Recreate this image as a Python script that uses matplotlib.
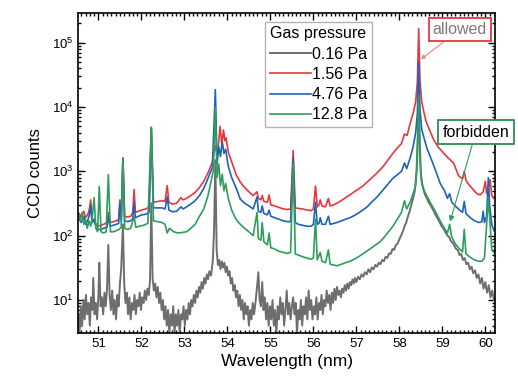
#!/usr/bin/env python3
import matplotlib
matplotlib.use("Agg")
import matplotlib.pyplot as plt
from matplotlib.ticker import MultipleLocator, LogLocator, NullFormatter

plt.rcParams['font.family'] = ['Liberation Sans', 'DejaVu Sans']
plt.rcParams['mathtext.fontset'] = 'custom'
plt.rcParams['mathtext.rm'] = 'Liberation Sans'
plt.rcParams['mathtext.it'] = 'Liberation Sans:italic'

# spectra: wavelength (nm) -> CCD counts

# 0.16 Pa
gray_wl = [50.53, 50.56, 50.59, 50.62, 50.65, 50.68, 50.71, 50.74, 50.77, 50.80,
           50.83, 50.86, 50.88, 50.91, 50.94, 50.97, 51.00, 51.02, 51.05, 51.08,
           51.11, 51.14, 51.17, 51.20, 51.23, 51.26, 51.29, 51.32, 51.35, 51.38,
           51.41, 51.44, 51.47, 51.50, 51.53, 51.57, 51.60, 51.63, 51.66, 51.69,
           51.72, 51.75, 51.78, 51.81, 51.84, 51.87, 51.90, 51.93, 51.96, 51.99,
           52.02, 52.05, 52.08, 52.11, 52.14, 52.17, 52.20, 52.23, 52.26, 52.29,
           52.32, 52.35, 52.38, 52.41, 52.44, 52.47, 52.50, 52.53, 52.56, 52.59,
           52.62, 52.65, 52.68, 52.71, 52.74, 52.77, 52.80, 52.83, 52.86, 52.89,
           52.92, 52.95, 52.98, 53.01, 53.04, 53.07, 53.10, 53.13, 53.16, 53.19,
           53.22, 53.25, 53.28, 53.31, 53.34, 53.37, 53.40, 53.43, 53.46, 53.49,
           53.52, 53.55, 53.58, 53.62, 53.66, 53.69, 53.72, 53.75, 53.78, 53.81,
           53.84, 53.87, 53.90, 53.93, 53.96, 53.99, 54.02, 54.05, 54.08, 54.11,
           54.14, 54.17, 54.20, 54.23, 54.26, 54.29, 54.32, 54.35, 54.38, 54.41,
           54.44, 54.47, 54.50, 54.53, 54.56, 54.59, 54.62, 54.66, 54.69, 54.72,
           54.75, 54.78, 54.81, 54.84, 54.87, 54.90, 54.93, 54.96, 54.99, 55.02,
           55.05, 55.08, 55.11, 55.14, 55.17, 55.20, 55.23, 55.26, 55.29, 55.32,
           55.35, 55.38, 55.41, 55.44, 55.47, 55.50, 55.53, 55.56, 55.59, 55.62,
           55.65, 55.68, 55.71, 55.74, 55.77, 55.80, 55.83, 55.86, 55.89, 55.92,
           55.95, 55.98, 56.01, 56.04, 56.07, 56.10, 56.13, 56.16, 56.19, 56.22,
           56.25, 56.28, 56.31, 56.34, 56.37, 56.40, 56.43, 56.46, 56.49, 56.52,
           56.55, 56.58, 56.61, 56.64, 56.67, 56.70, 56.73, 56.76, 56.79, 56.82,
           56.85, 56.88, 56.91, 56.94, 56.97, 57.00, 57.04, 57.08, 57.12, 57.16,
           57.20, 57.24, 57.28, 57.32, 57.36, 57.40, 57.44, 57.48, 57.52, 57.56,
           57.60, 57.64, 57.68, 57.72, 57.76, 57.80, 57.84, 57.88, 57.92, 57.96,
           58.00, 58.04, 58.08, 58.12, 58.16, 58.20, 58.24, 58.28, 58.32, 58.36,
           58.40, 58.43, 58.45, 58.47, 58.50, 58.53, 58.56, 58.60, 58.64, 58.68,
           58.72, 58.76, 58.80, 58.84, 58.88, 58.92, 58.96, 59.00, 59.04, 59.08,
           59.12, 59.16, 59.20, 59.24, 59.28, 59.32, 59.36, 59.40, 59.44, 59.48,
           59.52, 59.56, 59.60, 59.64, 59.68, 59.72, 59.76, 59.80, 59.84, 59.88,
           59.92, 59.96, 60.00, 60.04, 60.08, 60.12, 60.16, 60.20]
gray_cnt = [6, 3, 8, 4, 10, 5, 12, 6, 9, 4,
            11, 7, 22, 6, 9, 5, 12, 38, 8, 11,
            6, 13, 8, 15, 72, 12, 7, 14, 6, 10,
            5, 12, 8, 18, 30, 150, 18, 9, 13, 6,
            11, 5, 9, 7, 12, 6, 10, 8, 13, 7,
            11, 9, 14, 10, 15, 12, 20, 320, 22, 14,
            18, 11, 16, 9, 13, 7, 10, 5, 8, 4,
            7, 3, 6, 4, 8, 3, 6, 4, 7, 3,
            6, 5, 8, 4, 7, 5, 9, 6, 10, 8,
            12, 9, 14, 11, 16, 13, 19, 15, 22, 18,
            25, 21, 28, 24, 40, 120, 1500, 60, 35, 42,
            30, 40, 32, 38, 27, 33, 24, 28, 18, 22,
            14, 17, 11, 14, 8, 12, 7, 10, 5, 9,
            6, 8, 4, 7, 5, 9, 6, 10, 16, 27,
            10, 8, 19, 7, 11, 5, 9, 4, 8, 5,
            10, 4, 7, 3, 8, 5, 11, 6, 9, 4,
            7, 14, 6, 9, 5, 8, 11, 6, 9, 3,
            7, 5, 10, 4, 8, 6, 11, 5, 14, 7,
            10, 5, 8, 6, 11, 5, 9, 7, 12, 6,
            10, 8, 14, 9, 12, 7, 13, 9, 15, 10,
            16, 12, 14, 11, 15, 13, 17, 14, 18, 15,
            19, 17, 21, 18, 22, 19, 23, 21, 25, 23,
            27, 25, 30, 27, 32, 30, 35, 33, 38, 36,
            42, 40, 47, 45, 53, 52, 62, 60, 72, 75,
            88, 100, 115, 140, 160, 200, 240, 300, 380, 500,
            1000, 4000, 20000, 4000, 900, 650, 520, 430, 380, 330,
            300, 270, 240, 210, 190, 170, 150, 135, 125, 110,
            100, 95, 82, 78, 70, 62, 60, 50, 52, 42,
            45, 36, 38, 30, 33, 26, 29, 22, 25, 18,
            22, 15, 19, 13, 17, 11, 14, 10]

# 1.56 Pa
red_wl = [50.53, 50.60, 50.66, 50.70, 50.75, 50.79, 50.82, 50.85, 50.88, 50.95,
          51.00, 51.05, 51.12, 51.20, 51.23, 51.27, 51.35, 51.42, 51.47, 51.50,
          51.53, 51.57, 51.61, 51.68, 51.75, 51.80, 51.83, 51.86, 51.93, 52.00,
          52.10, 52.18, 52.23, 52.28, 52.38, 52.48, 52.55, 52.60, 52.64, 52.72,
          52.82, 52.92, 52.97, 53.05, 53.15, 53.25, 53.35, 53.45, 53.55, 53.65,
          53.72, 53.77, 53.83, 53.87, 53.91, 53.94, 53.97, 54.02, 54.10, 54.20,
          54.30, 54.40, 54.50, 54.60, 54.69, 54.72, 54.78, 54.81, 54.85, 54.93,
          54.97, 55.01, 55.10, 55.20, 55.30, 55.40, 55.47, 55.53, 55.58, 55.65,
          55.75, 55.85, 55.95, 56.00, 56.05, 56.09, 56.13, 56.16, 56.20, 56.28,
          56.35, 56.39, 56.47, 56.55, 56.65, 56.75, 56.85, 56.95, 57.05, 57.15,
          57.25, 57.35, 57.45, 57.55, 57.65, 57.75, 57.85, 57.95, 58.05, 58.12,
          58.18, 58.25, 58.32, 58.38, 58.42, 58.45, 58.48, 58.52, 58.56, 58.62,
          58.70, 58.80, 58.90, 59.02, 59.14, 59.26, 59.38, 59.47, 59.51, 59.55,
          59.62, 59.72, 59.80, 59.88, 59.95, 60.00, 60.03, 60.07, 60.11, 60.15,
          60.20]
red_cnt = [230, 200, 240, 190, 210, 260, 360, 200, 170, 150,
           140, 145, 150, 160, 230, 160, 165, 170, 180, 360,
           190, 1600, 200, 195, 200, 230, 520, 230, 240, 250,
           260, 280, 4800, 330, 340, 350, 340, 600, 330, 310,
           320, 390, 360, 380, 420, 470, 560, 700, 950, 1380,
           2500, 1800, 5000, 2600, 4400, 3000, 3300, 2000, 1400, 900,
           680, 560, 480, 420, 480, 380, 360, 420, 340, 330,
           430, 300, 290, 275, 260, 255, 260, 2100, 270, 265,
           260, 250, 245, 260, 590, 280, 300, 360, 290, 280,
           380, 290, 300, 320, 350, 390, 430, 480, 530, 590,
           680, 780, 900, 1050, 1250, 1550, 1900, 2300, 2700, 3800,
           3600, 5500, 8000, 12000, 25000, 165000, 25000, 12000, 9000, 6000,
           4400, 3100, 2400, 1950, 1600, 1350, 850, 760, 1000, 720,
           620, 520, 450, 430, 480, 700, 450, 560, 740, 420,
           380]

# 4.76 Pa
blue_wl = [50.53, 50.60, 50.66, 50.70, 50.75, 50.79, 50.82, 50.85, 50.90, 50.95,
           51.00, 51.05, 51.12, 51.20, 51.23, 51.27, 51.35, 51.42, 51.47, 51.50,
           51.53, 51.57, 51.61, 51.68, 51.75, 51.80, 51.83, 51.86, 51.93, 52.00,
           52.10, 52.18, 52.23, 52.28, 52.38, 52.48, 52.55, 52.60, 52.64, 52.72,
           52.82, 52.92, 52.97, 53.05, 53.15, 53.25, 53.35, 53.45, 53.55, 53.65,
           53.72, 53.76, 53.80, 53.84, 53.88, 53.92, 53.96, 54.02, 54.10, 54.20,
           54.30, 54.40, 54.50, 54.60, 54.69, 54.72, 54.78, 54.81, 54.85, 54.93,
           54.97, 55.01, 55.10, 55.20, 55.30, 55.40, 55.47, 55.53, 55.58, 55.65,
           55.75, 55.85, 55.95, 56.00, 56.05, 56.09, 56.13, 56.16, 56.20, 56.28,
           56.35, 56.39, 56.47, 56.55, 56.65, 56.75, 56.85, 56.95, 57.05, 57.15,
           57.25, 57.35, 57.45, 57.55, 57.65, 57.75, 57.85, 57.95, 58.05, 58.12,
           58.17, 58.25, 58.32, 58.38, 58.42, 58.45, 58.48, 58.52, 58.58, 58.65,
           58.75, 58.85, 58.95, 59.05, 59.12, 59.17, 59.22, 59.30, 59.40, 59.47,
           59.51, 59.55, 59.65, 59.75, 59.85, 59.92, 59.95, 59.98, 60.03, 60.07,
           60.10, 60.15, 60.20]
blue_cnt = [190, 160, 200, 150, 170, 210, 300, 160, 180, 130,
            125, 125, 130, 135, 200, 140, 145, 150, 155, 320,
            165, 1600, 170, 165, 170, 185, 330, 190, 200, 210,
            215, 230, 4800, 270, 270, 270, 260, 400, 250, 235,
            240, 280, 260, 280, 310, 350, 420, 540, 780, 1150,
            18600, 1300, 2400, 1700, 2900, 1900, 2200, 1200, 800, 560,
            370, 320, 290, 260, 400, 240, 230, 290, 220, 210,
            250, 200, 190, 180, 170, 165, 165, 1600, 160, 150,
            145, 140, 140, 150, 330, 150, 155, 190, 150, 150,
            200, 150, 155, 160, 170, 180, 190, 205, 225, 250,
            280, 330, 380, 450, 540, 650, 780, 880, 1000, 1350,
            1100, 1600, 2400, 4000, 8000, 50000, 9000, 4500, 3200, 2200,
            1500, 1000, 650, 500, 380, 450, 330, 290, 250, 230,
            340, 220, 190, 170, 160, 165, 240, 160, 200, 800,
            300, 150, 120]

# 12.8 Pa
green_wl = [50.53, 50.58, 50.62, 50.66, 50.70, 50.74, 50.78, 50.82, 50.86, 50.90,
            50.94, 50.98, 51.02, 51.06, 51.12, 51.18, 51.23, 51.28, 51.35, 51.42,
            51.48, 51.53, 51.57, 51.61, 51.68, 51.75, 51.83, 51.87, 51.95, 52.05,
            52.15, 52.23, 52.28, 52.38, 52.48, 52.55, 52.60, 52.65, 52.75, 52.85,
            52.95, 53.05, 53.15, 53.25, 53.35, 53.45, 53.55, 53.62, 53.67, 53.72,
            53.76, 53.80, 53.84, 53.88, 53.92, 53.96, 54.02, 54.10, 54.20, 54.30,
            54.40, 54.50, 54.60, 54.69, 54.72, 54.78, 54.81, 54.85, 54.93, 54.97,
            55.01, 55.10, 55.20, 55.30, 55.40, 55.47, 55.53, 55.58, 55.65, 55.75,
            55.85, 55.95, 56.00, 56.05, 56.09, 56.16, 56.20, 56.28, 56.35, 56.39,
            56.47, 56.55, 56.65, 56.75, 56.85, 56.95, 57.05, 57.15, 57.25, 57.35,
            57.45, 57.55, 57.65, 57.75, 57.85, 57.95, 58.05, 58.12, 58.17, 58.25,
            58.32, 58.38, 58.42, 58.45, 58.48, 58.52, 58.58, 58.65, 58.75, 58.85,
            58.95, 59.05, 59.12, 59.17, 59.22, 59.30, 59.40, 59.47, 59.51, 59.55,
            59.65, 59.75, 59.85, 59.92, 59.98, 60.03, 60.07, 60.10, 60.15, 60.20]
green_cnt = [220, 170, 230, 150, 180, 130, 170, 140, 200, 390,
             130, 115, 580, 115, 110, 115, 890, 115, 115, 120,
             125, 135, 1600, 130, 125, 130, 200, 135, 140, 145,
             155, 4800, 170, 165, 160, 150, 110, 130, 115, 110,
             112, 115, 130, 150, 200, 260, 420, 700, 1000, 9800,
             800, 1300, 600, 900, 500, 650, 380, 250, 180, 150,
             130, 115, 100, 230, 90, 85, 160, 80, 72, 110,
             65, 62, 57, 55, 53, 55, 1300, 52, 50, 47,
             45, 43, 45, 180, 42, 55, 40, 38, 60, 36,
             35, 34, 36, 38, 40, 43, 47, 52, 58, 65,
             72, 80, 95, 115, 140, 180, 230, 350, 260, 330,
             450, 600, 1500, 15000, 1500, 650, 500, 400, 300, 230,
             170, 130, 110, 150, 95, 75, 62, 56, 125, 52,
             46, 42, 40, 40, 45, 150, 380, 200, 60, 55]

labels = ['0.16 Pa', '1.56 Pa', '4.76 Pa', '12.8 Pa']
colors = ['#6e6e6e', '#e8363f', '#1f62bd', '#2e9e5c']


def main():
    fig = plt.figure(figsize=(5.18, 3.78), dpi=100)
    ax = fig.add_axes([0.151, 0.119, 0.805, 0.847])

    ax.plot(gray_wl, gray_cnt, color=colors[0], lw=1.4, label=labels[0])
    ax.plot(red_wl, red_cnt, color=colors[1], lw=1.2, label=labels[1])
    ax.plot(blue_wl, blue_cnt, color=colors[2], lw=1.2, label=labels[2])
    ax.plot(green_wl, green_cnt, color=colors[3], lw=1.2, label=labels[3])

    ax.set_yscale('log')
    ax.set_xlim(50.53, 60.23)
    ax.set_ylim(3.07, 2.9e5)

    ax.xaxis.set_major_locator(MultipleLocator(1))
    ax.xaxis.set_minor_locator(MultipleLocator(0.1))
    ax.yaxis.set_major_locator(LogLocator(base=10, numticks=10))
    ax.yaxis.set_minor_locator(LogLocator(base=10, subs=range(2, 10), numticks=20))
    ax.yaxis.set_minor_formatter(NullFormatter())
    ax.tick_params(which='both', direction='in', top=True, right=True,
                   labelsize=9.5, width=1.0)
    ax.tick_params(which='major', length=5)
    ax.tick_params(which='minor', length=2.5)
    for sp in ax.spines.values():
        sp.set_linewidth(1.2)

    ax.set_xlabel('Wavelength (nm)', fontsize=12.5, labelpad=3)
    ax.set_ylabel('CCD counts', fontsize=12, labelpad=6)

    leg = ax.legend(loc='upper left', bbox_to_anchor=(0.448, 0.972),
                    borderaxespad=0, title='Gas pressure', fontsize=11.5,
                    title_fontsize=11.5, handlelength=2.6, handletextpad=0.05,
                    labelspacing=0.33, borderpad=0.28, fancybox=False,
                    edgecolor='#a0a0a0', alignment='left')
    leg.get_frame().set_linewidth(1.0)

    ax.annotate('allowed', xy=(58.5, 55000), xytext=(59.41, 1.6e5),
                ha='center', va='center', fontsize=11.5, color='#7a7a7a',
                bbox=dict(boxstyle='square,pad=0.25', fc='white', ec='#e8363f', lw=1.3),
                arrowprops=dict(arrowstyle='-|>', color='#f08080', lw=0.8,
                                mutation_scale=6, shrinkA=0, shrinkB=0),
                annotation_clip=False)
    ax.annotate('forbidden', xy=(59.18, 165), xytext=(59.78, 4070),
                ha='center', va='center', fontsize=11.5, color='black',
                bbox=dict(boxstyle='square,pad=0.3', fc='white', ec='#2e8b4e', lw=1.3),
                arrowprops=dict(arrowstyle='-|>', color='#2e9e5c', lw=0.8,
                                mutation_scale=8, shrinkA=0, shrinkB=0),
                annotation_clip=False)

    fig.savefig('out.png', dpi=100)


if __name__ == "__main__":
    main()
